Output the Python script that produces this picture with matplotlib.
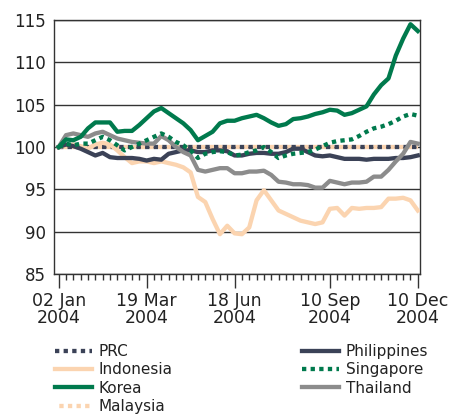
import matplotlib
matplotlib.use("Agg")
import matplotlib.pyplot as plt
import numpy as np

plt.rcParams['font.family'] = ['DejaVu Sans']

tick_labels = ["02 Jan\n2004", "19 Mar\n2004", "18 Jun\n2004", "10 Sep\n2004", "10 Dec\n2004"]
tick_index = [0, 12, 24, 37, 49]

prc = [100.0] * 50
malaysia = [100.0] * 50

korea = [100.0, 100.9, 100.8, 101.2, 102.2, 102.9, 102.9, 102.9, 101.8, 101.9,
         101.9, 102.6, 103.4, 104.2, 104.6, 104.0, 103.4, 102.8, 102.0, 100.8,
         101.3, 101.8, 102.8, 103.1, 103.1, 103.4, 103.6, 103.8, 103.4, 102.9,
         102.5, 102.7, 103.3, 103.4, 103.6, 103.9, 104.1, 104.4, 104.3, 103.8,
         104.0, 104.4, 104.8, 106.2, 107.3, 108.1, 110.8, 112.8, 114.5, 113.7]

singapore = [100.0, 100.4, 100.2, 100.4, 100.4, 100.8, 101.2, 100.8, 100.2, 99.6,
             100.0, 100.4, 100.8, 101.2, 101.6, 101.2, 100.6, 100.2, 99.6, 98.7,
             99.2, 99.4, 99.5, 99.4, 99.0, 99.1, 99.4, 99.6, 100.0, 99.4,
             98.7, 99.0, 99.2, 99.3, 99.4, 99.7, 100.1, 100.5, 100.7, 100.8,
             100.9, 101.3, 101.8, 102.2, 102.4, 102.7, 103.1, 103.6, 103.9, 103.7]

philippines = [100.0, 100.3, 100.1, 99.8, 99.4, 99.0, 99.3, 98.8, 98.7, 98.7,
               98.7, 98.6, 98.4, 98.6, 98.5, 99.2, 99.4, 99.6, 99.6, 99.4,
               99.4, 99.6, 99.6, 99.5, 99.0, 99.0, 99.2, 99.3, 99.3, 99.2,
               99.2, 99.4, 99.8, 99.8, 99.4, 99.0, 98.9, 99.0, 98.8, 98.6,
               98.6, 98.6, 98.5, 98.6, 98.6, 98.6, 98.7, 98.7, 98.8, 99.0]

thailand = [100.0, 101.4, 101.6, 101.4, 101.2, 101.6, 101.8, 101.4, 101.0, 100.8,
            100.6, 100.5, 100.4, 100.4, 101.3, 100.8, 100.0, 99.4, 99.0, 97.3,
            97.1, 97.3, 97.5, 97.5, 96.9, 96.9, 97.1, 97.1, 97.2, 96.7,
            95.9, 95.8, 95.6, 95.6, 95.5, 95.2, 95.2, 96.0, 95.8, 95.6,
            95.8, 95.8, 95.9, 96.5, 96.5, 97.3, 98.3, 99.2, 100.6, 100.4]

indonesia = [100.0, 100.2, 100.3, 100.1, 99.8, 100.3, 100.5, 100.3, 99.6, 98.8,
             98.1, 98.3, 98.3, 98.1, 98.3, 98.1, 97.9, 97.6, 97.0, 94.1,
             93.5, 91.5, 89.7, 90.7, 89.8, 89.7, 90.5, 93.7, 94.9, 93.7,
             92.5, 92.1, 91.7, 91.3, 91.1, 90.9, 91.1, 92.7, 92.8, 91.9,
             92.8, 92.7, 92.8, 92.8, 92.9, 93.9, 93.9, 94.0, 93.7, 92.5]

NAVY = "#3b4257"
PEACH = "#fbd4b0"
GREEN = "#007a4d"
GRAY = "#8c8c8c"

W, H = 456, 415
fig = plt.figure(figsize=(W / 100, H / 100), dpi=100)
ax = fig.add_axes([54 / W, 1 - 274 / H, (420 - 54) / W, (274 - 20) / H])

x = np.arange(len(korea))
lw = 3.1
dot = (0, (1, 1))

l_mal, = ax.plot(x, malaysia, color=PEACH, lw=lw, linestyle=(1, (1, 1)),
                 dash_capstyle='butt', label="Malaysia", zorder=2)
l_prc, = ax.plot(x, prc, color=NAVY, lw=lw, linestyle=dot,
                 dash_capstyle='butt', label="PRC", zorder=2.1)
l_ind, = ax.plot(x, indonesia, color=PEACH, lw=lw, label="Indonesia", zorder=3,
                 solid_joinstyle='round')
l_phi, = ax.plot(x, philippines, color=NAVY, lw=lw, label="Philippines", zorder=3.1,
                 solid_joinstyle='round')
l_tha, = ax.plot(x, thailand, color=GRAY, lw=lw, label="Thailand", zorder=3.2,
                 solid_joinstyle='round')
l_sin, = ax.plot(x, singapore, color=GREEN, lw=lw, linestyle=dot,
                 dash_capstyle='butt', label="Singapore", zorder=3.3)
l_kor, = ax.plot(x, korea, color=GREEN, lw=lw, label="Korea", zorder=3.4,
                 solid_joinstyle='round')

ax.set_ylim(85, 115)
ax.set_yticks([85, 90, 95, 100, 105, 110, 115])
ax.set_xlim(-0.64, 49.3)
ax.set_xticks(tick_index)
ax.set_xticklabels(tick_labels, fontsize=12.5, color="#222222", linespacing=0.95)
ax.set_xticks(x, minor=True)
ax.tick_params(axis='x', which='major', direction='out', length=10, width=1,
               color="#333333", pad=3)
ax.tick_params(axis='x', which='minor', direction='out', length=4, width=1,
               color="#333333")
ax.tick_params(axis='y', length=0, labelsize=12, labelcolor="#222222", pad=6)

ax.yaxis.grid(True, color="#333333", lw=1)
ax.set_axisbelow(True)
for s in ax.spines.values():
    s.set_color("#333333")
    s.set_linewidth(1)

handles = [l_prc, l_ind, l_kor, l_mal, l_phi, l_sin, l_tha]
labels = [h.get_label() for h in handles]
leg = fig.legend(handles, labels, ncol=2, loc='upper left',
                 bbox_to_anchor=(55 / W, 1 - 344 / H), frameon=False,
                 fontsize=11, handlelength=2.4, handletextpad=0.45,
                 columnspacing=8.5, labelspacing=0.22, borderpad=0,
                 borderaxespad=0)
for t in leg.get_texts():
    t.set_color("#222222")

fig.savefig("out.png", dpi=100)
